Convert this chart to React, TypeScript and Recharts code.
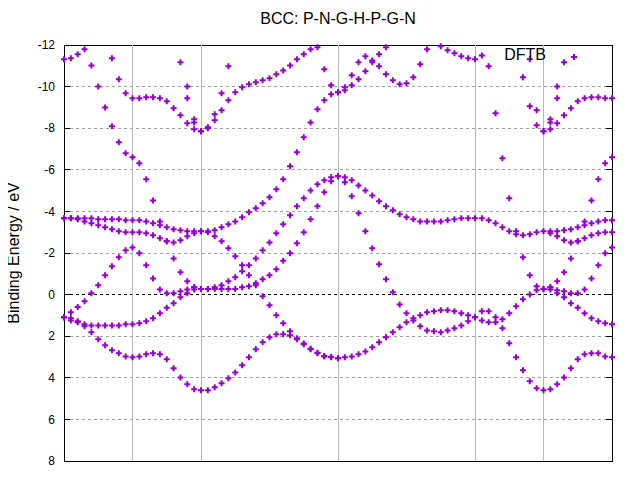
import React from 'react';
import { ScatterChart, Scatter, XAxis, YAxis, ReferenceLine, ReferenceArea } from 'recharts';

const _ = null;

// k-point index 0..80 along P-N-G-H-P-G-N; energies in eV
const bandA = [
  -3.67, -3.67, -3.67, -3.67, -3.67, -3.62, -3.62, -3.62, -3.62, -3.57, -3.57, -3.57, -3.52, -3.43, -3.33, -3.24, -3.14, -3.09, -3.04, -3.04, -3.04,
  -3.04, -3.09, -3.24, -3.38, -3.52, -3.72, -3.96, -4.15, -4.39, -4.68, -5.06, -5.54, -6.17, -6.84, -7.56, -8.28, -8.91, -9.34, -9.63, -9.73,
  -9.82, -10.06, -10.35, -10.74, -11.17, -11.55, -11.89, _, _, _, _, _, _, _, _, _, _, _, _,
  -11.31, _, -10.98, -8.72, -6.55, -4.63, -3.04, -1.79, -0.93, -0.4, -0.27,
  -0.35, -0.64, -1.07, -1.74, -2.56, -3.52, -4.53, -5.54, -6.31, -6.6,
];
const bandB = [
  -3.67, -3.67, -3.62, -3.52, -3.43, -3.33, -3.24, -3.14, -3.04, -3.0, -3.0, -3.0, -2.95, -2.85, -2.71, -2.56, -2.51, -2.61, -2.8, -2.95, -3.04,
  -3.0, -2.8, -2.56, -2.23, -1.84, -1.41, -0.93, -0.45, 0.08, 0.51, 0.99, 1.38, 1.76, 2.1, 2.35, 2.6, 2.8, 2.95, 3.0, 3.06,
  3.01, 2.97, 2.87, 2.73, 2.53, 2.29, 2.05, 1.81, 1.57, 1.33, 1.24, 0.99, 0.85, 0.8, 0.75, 0.75, 0.8, 0.9, 0.99, 1.09,
  0.8, 0.8, 1.09, 1.19, 0.9, 0.56, 0.22, -0.01, -0.21, -0.27,
  -2.95, -2.8, -2.61, -2.51, -2.56, -2.71, -2.85, -2.95, -3.0, -3.0,
];
const bandC = [
  _, _, _, _, -11.02, -10.01, -9.0, -8.09, -7.32, -6.79, -6.6, -6.31, -5.54, -4.53, -3.52, -2.56, -1.74, -1.07, -0.64, -0.35, -0.27,
  -0.27, -0.35, -0.45, -0.64, -0.83, -1.12, -1.41, -1.74, -2.13, -2.51, -2.95, -3.38, -3.81, -4.25, -4.63, -5.01, -5.3, -5.5, -5.64, -5.69,
  -5.64, -5.5, -5.25, -5.01, -4.77, -4.49, -4.25, -4.05, -3.86, -3.72, -3.62, -3.52, -3.52, -3.52, -3.52, -3.57, -3.62, -3.67, -3.67, -3.67,
  -3.67, -3.57, -3.43, -3.24, -3.04, -2.9, -2.85, -2.9, -3.0, -3.04,
  -3.04, -3.04, -3.09, -3.14, -3.24, -3.33, -3.43, -3.52, -3.57, -3.57,
];
const bandD = [
  1.09, 0.85, 0.6, 0.32, -0.06, -0.45, -0.93, -1.36, -1.79, -2.13, -2.27, -1.99, -1.41, -0.78, -0.25, -0.06, -0.06, -0.16, -0.25, -0.35, -0.27,
  -0.27, -0.27, -0.27, -0.27, -0.27, -0.35, -0.4, -0.54, -0.74, -0.93, -1.22, -1.63, -1.99, -2.47, -3.0, -3.62, -4.25, -4.92, -5.45, -5.69,
  -5.4, -4.73, -3.91, -3.04, -2.23, -1.46, -0.74, -0.11, 0.47, 0.9, 1.14, 1.52, 1.72, 1.76, 1.81, 1.72, 1.62, 1.48, 1.28, 1.09,
  1.24, 1.33, 1.33, 1.62, 2.34, 3.01, 3.64, 4.17, 4.5, 4.6,
  4.55, 4.31, 3.98, 3.54, 3.11, 2.87, 2.82, 2.82, 2.97, 3.01,
];
const bandE = [
  1.09, 1.14, 1.28, 1.43, 1.48, 1.48, 1.48, 1.48, 1.48, 1.43, 1.43, 1.38, 1.28, 1.14, 0.9, 0.63, 0.42, 0.13, -0.06, -0.25, -0.27,
  _, _, _, _, _, _, _, _, _, _, _, _, _, _, _, _, _, _, _, _,
  _, _, _, _, _, _, _, _, _, _, _, _, _, _, _, _, _, _, _, _,
  _, _, _, _, _, _, _, _, _, _,
  -0.25, -0.06, 0.13, 0.42, 0.63, 0.9, 1.14, 1.28, 1.38, 1.43,
];
const bandF = [
  1.09, 1.24, 1.33, 1.52, 1.81, 2.15, 2.44, 2.68, 2.82, 2.97, 3.01, 2.97, 2.87, 2.82, 2.87, 3.11, 3.54, 3.98, 4.31, 4.55, 4.6,
  4.6, 4.46, 4.26, 4.02, 3.74, 3.4, 3.01, 2.63, 2.29, 2.05, 1.91, 1.91, 1.96, 2.15, 2.39, 2.63, 2.82, 2.97, 3.01, 3.06,
  _, _, _, _, _, _, _, _, _, _, _, _, _, _, _, _, _, _, _, _,
  _, _, _, _, _, _, _, _, _, _,
  -0.35, -0.21, -0.16, -0.06, -0.06, -0.25, -0.78, -1.41, -1.99, -2.27,
];
const bandG = [
  _, _, _, _, _, _, _, -11.36, -10.35, -9.68, -9.44, -9.44, -9.49, -9.49, -9.44, -9.29, -8.96, -8.62, -8.24, -7.95, -7.85,
  -8.0, -8.38, -8.86, -9.34, -9.73, -9.97, -10.11, -10.21, -10.3, -10.4, -10.59, -10.78, -11.02, -11.31, -11.55, -11.79, -11.89, -10.83, -10.06, -9.73,
  -9.97, -10.54, -11.17, -11.46, -11.26, -10.98, -10.59, -10.3, -10.11, -10.16, -10.45, -11.07, -11.79, _, _, _, _, _, _, _,
  _, _, _, _, _, _, -10.45, -9.05, -8.14, -7.85,
  -7.95, -8.24, -8.62, -8.96, -9.29, -9.44, -9.49, -9.49, -9.44, -9.44,
];
const bandH = [
  _, _, _, _, _, _, _, _, _, _, _, _, _, _, _, _, _, -11.17, -10.01, -8.43, -7.85,
  -8.04, -8.67, -9.68, -10.98, _, _, _, _, _, _, _, _, _, _, _, _, _, _, _, _,
  _, _, _, _, _, _, _, _, _, _, _, _, _, _, _, _, _, _, _, _,
  _, _, _, _, _, _, _, -11.31, -8.86, -7.85,
  -8.43, -10.01, -11.17, _, _, _, _, _, _, _,
];
const bandI = [
  -11.31, -11.36, -11.55, -11.79, _, _, _, _, _, _, _, _, _, _, _, _, _, _, -9.44, -8.28, _,
  _, _, _, _, _, _, _, _, _, _, _, _, _, _, _, _, _, _, _, _,
  _, _, _, _, _, _, _, _, _, _, _, _, _, _, -11.94, -11.75, -11.6, -11.46, -11.36, _,
  -11.5, _, _, _, _, _, _, _, _, _,
  -8.28, -9.44, _, _, _, _, _, _, _, _,
];

const BANDS = [bandA, bandB, bandC, bandD, bandE, bandF, bandG, bandH, bandI];

const K_MAX = 80;
const SYM_POINTS = [10, 20, 40, 60, 70]; // N, G, H, P, G
const Y_TICKS = [-12, -10, -8, -6, -4, -2, 0, 2, 4, 6, 8];
const Y_DOMAIN: [number, number] = [-12, 8];
const TITLE = 'BCC: P-N-G-H-P-G-N';
const Y_LABEL = 'Binding Energy / eV';
const SERIES_NAME = 'DFTB';

const COLOR = '#9400d3';
const FONT = '"Liberation Sans", Arial, sans-serif';
const TICK_LEN = 0.88; // inward tick length in k-units (~6px)

const Plus = (props: any) => {
  const { cx, cy } = props;
  if (cx == null || cy == null) return null;
  return (
    <path
      d={`M${cx - 3},${cy}H${cx + 3}M${cx},${cy - 3}V${cy + 3}`}
      stroke={COLOR}
      strokeWidth={2}
      fill="none"
    />
  );
};

const seriesData = BANDS.map((b) =>
  b.map((e, k) => ({ k, e })).filter((p) => p.e !== null)
);

export default function App() {
  return (
    <div style={{ position: 'relative', width: 640, height: 480, fontFamily: FONT }}>
      <ScatterChart width={640} height={480} margin={{ top: 37, right: 36, bottom: 27, left: 0 }}>
        <XAxis dataKey="k" type="number" domain={[0, K_MAX]} hide />
        <YAxis
          dataKey="e"
          type="number"
          domain={Y_DOMAIN}
          reversed
          ticks={Y_TICKS}
          interval={0}
          width={56}
          axisLine={false}
          tickLine={false}
          tickSize={0}
          tickMargin={9}
          tick={{ fill: '#000', fontSize: 12, fontFamily: FONT }}
        />
        {seriesData.map((d, i) => (
          <Scatter key={i} data={d} fill={COLOR} shape={Plus} isAnimationActive={false} />
        ))}
        {Y_TICKS.filter((v) => v !== Y_DOMAIN[0] && v !== Y_DOMAIN[1]).map((v) => (
          <ReferenceLine
            key={'g' + v}
            segment={[{ x: TICK_LEN, y: v }, { x: K_MAX - TICK_LEN, y: v }]}
            stroke={v === 0 ? '#000' : '#a0a0a0'}
            strokeDasharray="3 3"
            strokeWidth={1}
            shapeRendering="crispEdges"
          />
        ))}
        {SYM_POINTS.map((p) => (
          <ReferenceLine key={'s' + p} x={p} stroke="#b8b8b8" strokeWidth={1} shapeRendering="crispEdges" />
        ))}
        {Y_TICKS.map((v) => (
          <ReferenceLine
            key={'tl' + v}
            segment={[{ x: 0, y: v }, { x: TICK_LEN, y: v }]}
            stroke="#000"
            shapeRendering="crispEdges"
          />
        ))}
        {Y_TICKS.map((v) => (
          <ReferenceLine
            key={'tr' + v}
            segment={[{ x: K_MAX - TICK_LEN, y: v }, { x: K_MAX, y: v }]}
            stroke="#000"
            shapeRendering="crispEdges"
          />
        ))}
        <ReferenceArea
          x1={0}
          x2={K_MAX}
          y1={Y_DOMAIN[0]}
          y2={Y_DOMAIN[1]}
          fill="none"
          fillOpacity={0}
          stroke="#000"
          strokeWidth={1}
          shapeRendering="crispEdges"
        />
      </ScatterChart>
      <div
        style={{
          position: 'absolute', left: 330, top: 11, transform: 'translate(-50%, -50%)',
          fontSize: 16, whiteSpace: 'nowrap', color: '#000',
        }}
      >
        {TITLE}
      </div>
      <div
        style={{
          position: 'absolute', left: 6, top: 245, transform: 'translate(-50%, -50%) rotate(-90deg)',
          fontSize: 16, whiteSpace: 'nowrap', color: '#000',
        }}
      >
        {Y_LABEL}
      </div>
      <div
        style={{
          position: 'absolute', right: 640 - 538, top: 47, transform: 'translateY(-50%)',
          fontSize: 16, whiteSpace: 'nowrap', color: '#000',
        }}
      >
        {SERIES_NAME}
      </div>
      <svg style={{ position: 'absolute', left: 561, top: 44, overflow: 'visible' }} width={10} height={10}>
        <path d="M2,5H8M5,2V8" stroke={COLOR} strokeWidth={2} fill="none" />
      </svg>
    </div>
  );
}
